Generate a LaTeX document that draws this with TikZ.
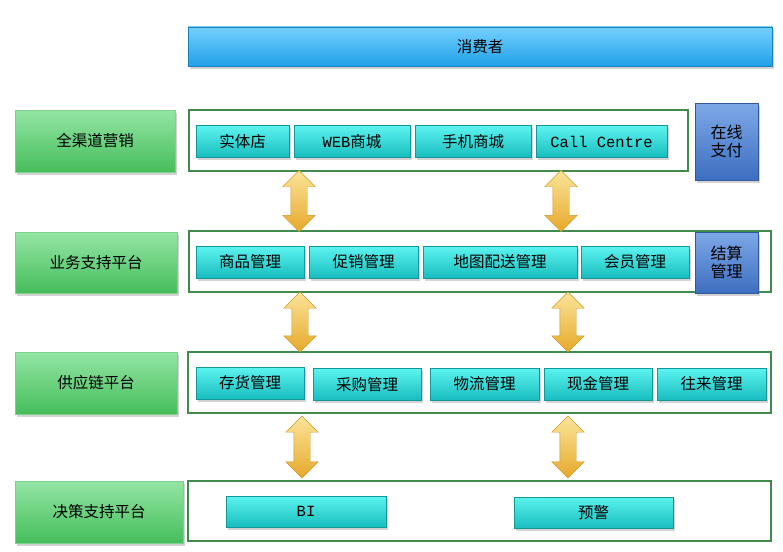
\documentclass[tikz,border=0pt]{standalone}
\usepackage{fontspec}
\setmainfont{Noto Sans CJK SC}
\newfontfamily\latmono{Liberation Mono}
\usetikzlibrary{shapes,shadows,calc,arrows}

\definecolor{verdeA}{HTML}{94E6A4}
\definecolor{verdeB}{HTML}{45BD5C}
\definecolor{cianoA}{HTML}{5CF4EF}
\definecolor{cianoB}{HTML}{19BDBF}
\definecolor{bluA}{HTML}{7EA9E8}
\definecolor{bluB}{HTML}{3D6EC0}
\definecolor{celA}{HTML}{74D0FF}
\definecolor{celB}{HTML}{21A0E7}
\definecolor{oroA}{HTML}{FBE49A}
\definecolor{oroB}{HTML}{E6A92A}
\definecolor{cornice}{HTML}{3F8A4C}

\begin{document}
\begin{tikzpicture}[x=1pt, y=-1pt, font=\fontsize{15.5}{17}\selectfont]

%====Definizione stili=======================================================

	\tikzstyle{ombra}=[drop shadow={shadow xshift=1.5pt, shadow yshift=-2.5pt, opacity=0.35}]
	\tikzstyle{livello}=[rectangle, draw=verdeB!70, top color=verdeA, bottom color=verdeB, ombra, inner sep=0pt]
	\tikzstyle{modulo}=[rectangle, draw=cianoB!80!black, top color=cianoA, bottom color=cianoB, ombra, inner sep=0pt, minimum height=32]
	\tikzstyle{pagamento}=[rectangle, draw=bluB!80!black, top color=bluA, bottom color=bluB, ombra, inner sep=0pt, align=center, text width=40, font=\fontsize{16}{18.5}\selectfont]
	\tikzstyle{cornice}=[rectangle, draw=cornice, line width=1.5pt, inner sep=0pt]
	\tikzstyle{freccia}=[double arrow, shape border rotate=90, draw=oroB!90!black, top color=oroA, bottom color=oroB, minimum width=32, double arrow head extend=8, inner xsep=8pt, inner ysep=0pt]

	\useasboundingbox (0,0) rectangle (783,551);

%====Consumatore==============================================================

	\node[rectangle, draw=celB!80!black, top color=celA, bottom color=celB, ombra, minimum width=584, minimum height=39] (cons) at (480,46.5) {消费者};

%====Livelli a sinistra=======================================================

	\node[livello, minimum width=160, minimum height=62] (L1) at (95,141)   {全渠道营销};
	\node[livello, minimum width=162, minimum height=61] (L2) at (96,262.5) {业务支持平台};
	\node[livello, minimum width=162, minimum height=62] (L3) at (96,383)   {供应链平台};
	\node[livello, minimum width=168, minimum height=62] (L4) at (99,512)   {决策支持平台};

%====Cornici===================================================================

	\node[cornice, minimum width=499, minimum height=61] (F1) at (438.5,140.5) {};
	\node[cornice, minimum width=582, minimum height=61] (F2) at (480,261.5)   {};
	\node[cornice, minimum width=583, minimum height=61] (F3) at (479.5,382.5) {};
	\node[cornice, minimum width=583, minimum height=60] (F4) at (479.5,511)   {};

%====Moduli=====================================================================

	\node[modulo, minimum width=93]  (M11) at (242.5,141.5) {实体店};
	\node[modulo, minimum width=116] (M12) at (352,141.5)   {{\latmono WEB}商城};
	\node[modulo, minimum width=116] (M13) at (473,141.5)   {手机商城};
	\node[modulo, minimum width=131] (M14) at (601.5,141.5) {\latmono Call Centre};

	\node[modulo, minimum width=108] (M21) at (250,262)   {商品管理};
	\node[modulo, minimum width=109] (M22) at (363.5,262) {促销管理};
	\node[modulo, minimum width=154] (M23) at (500,262)   {地图配送管理};
	\node[modulo, minimum width=108] (M24) at (635,262)   {会员管理};

	\node[modulo, minimum width=108] (M31) at (250,383)   {存货管理};
	\node[modulo, minimum width=108] (M32) at (367,384.5) {采购管理};
	\node[modulo, minimum width=109] (M33) at (484.5,384) {物流管理};
	\node[modulo, minimum width=108] (M34) at (598,384)   {现金管理};
	\node[modulo, minimum width=109] (M35) at (711.5,384) {往来管理};

	\node[modulo, minimum width=160, minimum height=31] (M41) at (306,511.5)   {\latmono BI};
	\node[modulo, minimum width=159, minimum height=31] (M42) at (593.5,512.5) {预警};

%====Pagamento e conti=========================================================

	\node[pagamento, minimum width=63, minimum height=77] (P1) at (726.5,141.5) {在线\\支付};
	\node[pagamento, minimum width=63, minimum height=61] (P2) at (726.5,262.5) {结算\\管理};

%====Frecce tra i livelli========================================================

	\node[freccia, minimum height=61] (A1) at ($(F1.south -| 299,0)!.5!(F2.north -| 299,0)$) {};
	\node[freccia, minimum height=61] (A2) at ($(F1.south -| 561,0)!.5!(F2.north -| 561,0)$) {};
	\node[freccia, minimum height=60] (A3) at ($(F2.south -| 300,0)!.5!(F3.north -| 300,0)$) {};
	\node[freccia, minimum height=60] (A4) at ($(F2.south -| 568,0)!.5!(F3.north -| 568,0)$) {};
	\node[freccia, minimum height=62] (A5) at ($(F3.south -| 302,0)!.5!(F4.north -| 302,0)$) {};
	\node[freccia, minimum height=62] (A6) at ($(F3.south -| 568,0)!.5!(F4.north -| 568,-4)$) {};

\end{tikzpicture}
\end{document}
